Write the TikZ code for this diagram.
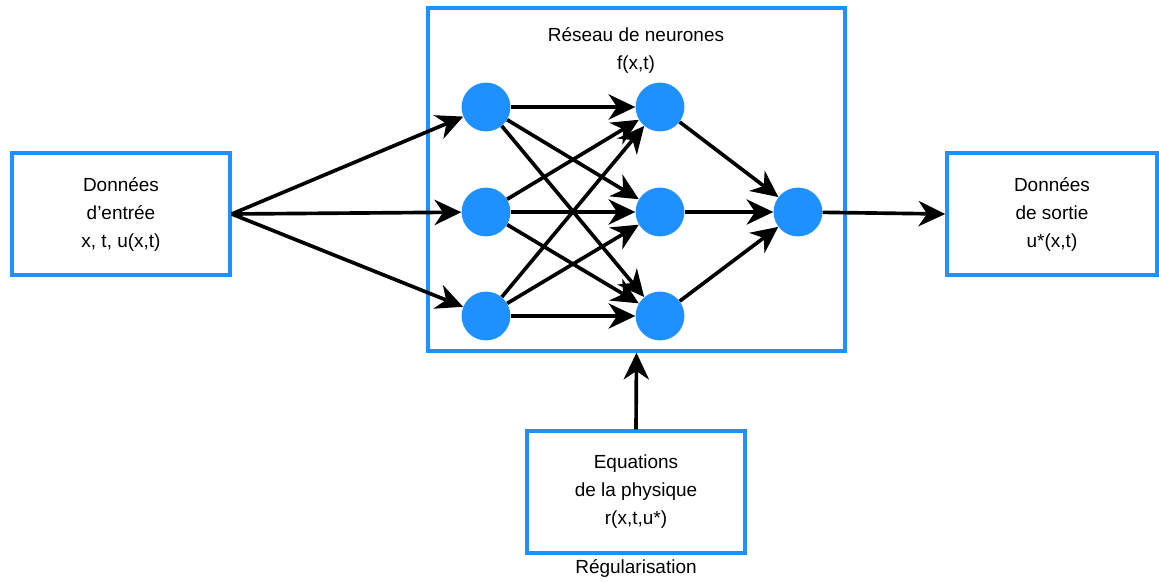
\documentclass[tikz,border=0pt]{standalone}
\usepackage{fontspec}
\setmainfont{Liberation Sans}
\usepackage{xcolor}
\usetikzlibrary{arrows.meta,positioning}
\definecolor{nnblue}{HTML}{1E90FF}

\begin{document}
\begin{tikzpicture}[x=0.025cm, y=-0.025cm,
  box/.style={draw=nnblue, line width=2.4pt, minimum width=5.45cm, minimum height=3.05cm,
              align=center, font=\fontsize{13.5}{19.9}\selectfont},
  neuron/.style={circle, fill=nnblue, minimum size=1.22cm, inner sep=0pt},
  arrow/.style={-{Stealth[length=19pt, width=18pt, inset=6pt]}, line width=2.6pt},
  note/.style={align=center, font=\fontsize{13.5}{19.9}\selectfont}
]
\useasboundingbox (0,0) rectangle (1159,581);
\node[box, minimum width=10.425cm, minimum height=8.575cm] (net) at (636.5,179.5) {};
\node[note] (title) at (636,50) {Réseau de neurones\\f(x,t)};
\node[box] (in) at (121,214) {Données\\d’entrée\\x, t, u(x,t)};
\node[box, minimum width=5.25cm] (out) at (1052,214) {Données\\de sortie\\u*(x,t)};
\node[box] (phys) at (636,492) {Equations\\de la physique\\r(x,t,u*)};
\node[note] (reg) at (636,568) {Régularisation};
\node[neuron] (h11) at (486,107) {};
\node[neuron] (h12) at (486,212) {};
\node[neuron] (h13) at (486,316) {};
\node[neuron] (h21) at (660,107) {};
\node[neuron] (h22) at (660,212) {};
\node[neuron] (h23) at (660,316) {};
\node[neuron] (o) at (798,212) {};
\foreach \i in {1,2,3}{
  \draw[arrow] (in.east) -- (h1\i);
  \foreach \j in {1,2,3}
    \draw[arrow] (h1\i) -- (h2\j);
  \draw[arrow] (h2\i) -- (o);
}
\draw[arrow] (o) -- (out.west);
\draw[arrow] (phys.north) -- (net.south);
\end{tikzpicture}
\end{document}
